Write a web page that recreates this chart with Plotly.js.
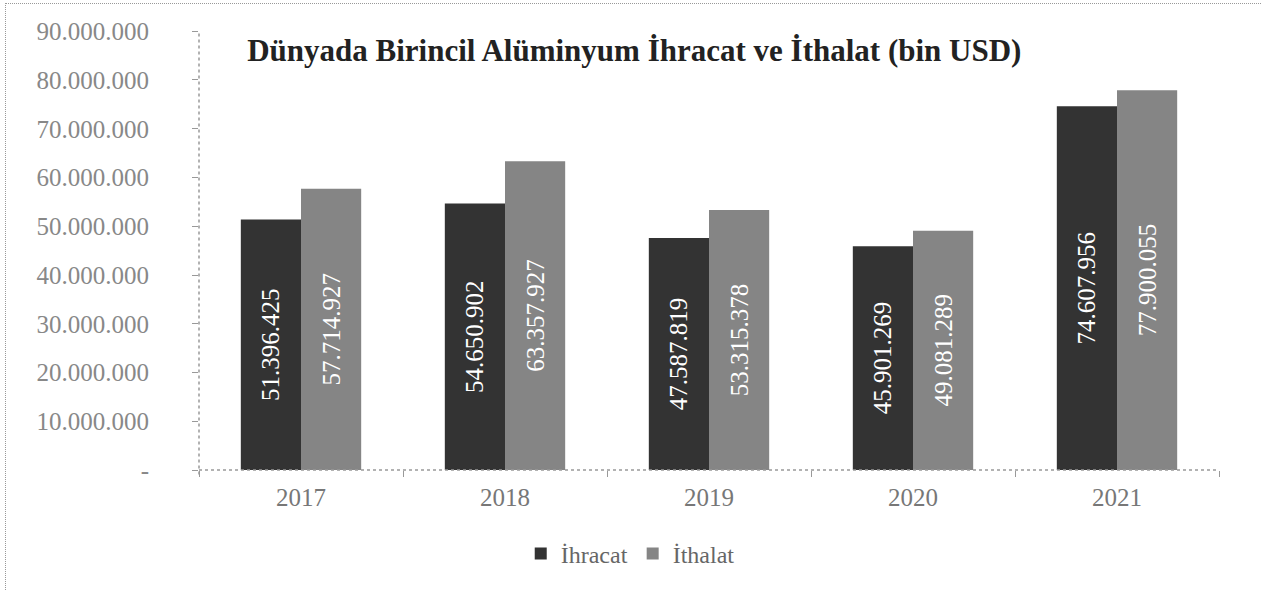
<!DOCTYPE html>
<html>
<head>
<meta charset="utf-8">
<script src="https://cdn.plot.ly/plotly-3.0.1.min.js"></script>
<style>
html,body{margin:0;padding:0;background:#fff;}
#chart{position:absolute;left:5px;top:3px;width:1256px;height:587px;border:1px dotted #999;box-sizing:border-box;}
</style>
</head>
<body>
<div id="chart"></div>
<script>
const years = ['2017','2018','2019','2020','2021'];
const ihracat = [51396425, 54650902, 47587819, 45901269, 74607956];
const ithalat = [57714927, 63357927, 53315378, 49081289, 77900055];
const ihracatLabels = ['51.396.425','54.650.902','47.587.819','45.901.269','74.607.956'];
const ithalatLabels = ['57.714.927','63.357.927','53.315.378','49.081.289','77.900.055'];
const yTickVals = [0,10000000,20000000,30000000,40000000,50000000,60000000,70000000,80000000,90000000];
const yTickText = ['-','10.000.000','20.000.000','30.000.000','40.000.000','50.000.000','60.000.000','70.000.000','80.000.000','90.000.000'];

const serif = 'Liberation Serif, Times New Roman, serif';
const barText = {family: serif, size: 25, color: '#ffffff'};

const data = [
  {type:'bar', name:'İhracat', x: years, y: ihracat, text: ihracatLabels,
   textposition:'inside', textangle:-90, insidetextanchor:'middle', textfont: barText,
   constraintext:'none', marker:{color:'#333333'}, hoverinfo:'none'},
  {type:'bar', name:'İthalat', x: years, y: ithalat, text: ithalatLabels,
   textposition:'inside', textangle:-90, insidetextanchor:'middle', textfont: barText,
   constraintext:'none', marker:{color:'#858585'}, hoverinfo:'none'}
];

const layout = {
  width: 1256, height: 587,
  margin: {l: 193, r: 43, t: 27, b: 121, autoexpand: false},
  paper_bgcolor: '#fff', plot_bgcolor: '#fff',
  barmode: 'group', bargap: 0.41, bargroupgap: 0,
  title: {text: '<b>Dünyada Birincil Alüminyum İhracat ve İthalat (bin USD)</b>',
          font: {family: serif, size: 31, color: '#222'},
          x: 0.192, xanchor: 'left', xref: 'container', y: 0.922, yanchor: 'middle', yref: 'container',
          automargin: false},
  xaxis: {type:'category', showgrid:false, showline:false, automargin:false,
          ticks:'outside', tickson:'boundaries', ticklen:6, tickcolor:'#999',
          ticklabelstandoff: 10,
          tickfont:{family: serif, size: 25, color:'#777'}, zeroline:false},
  yaxis: {range:[0, 90050000], tickvals: yTickVals, ticktext: yTickText,
          showgrid:false, showline:false, automargin:false,
          ticks:'outside', ticklen:6, tickcolor:'#999', ticklabelstandoff: 38,
          tickfont:{family: serif, size: 25, color:'#888'}, zeroline:false},
  shapes: [
    {type:'line', xref:'paper', yref:'paper', x0:0, x1:0, y0:-0.01, y1:1, line:{color:'#999', width:1.5, dash:'dot'}},
    {type:'line', xref:'paper', yref:'paper', x0:0, x1:1, y0:0, y1:0, line:{color:'#999', width:1.5, dash:'dot'}}
  ],
  showlegend: true,
  legend: {orientation:'h', x:0.497, xanchor:'center', xref:'container', y:-0.191, yanchor:'middle',
           font:{family: serif, size: 24, color:'#666'}, itemwidth: 30, traceorder:'normal'}
};

Plotly.newPlot('chart', data, layout, {displayModeBar:false, staticPlot:true});
</script>
</body>
</html>
